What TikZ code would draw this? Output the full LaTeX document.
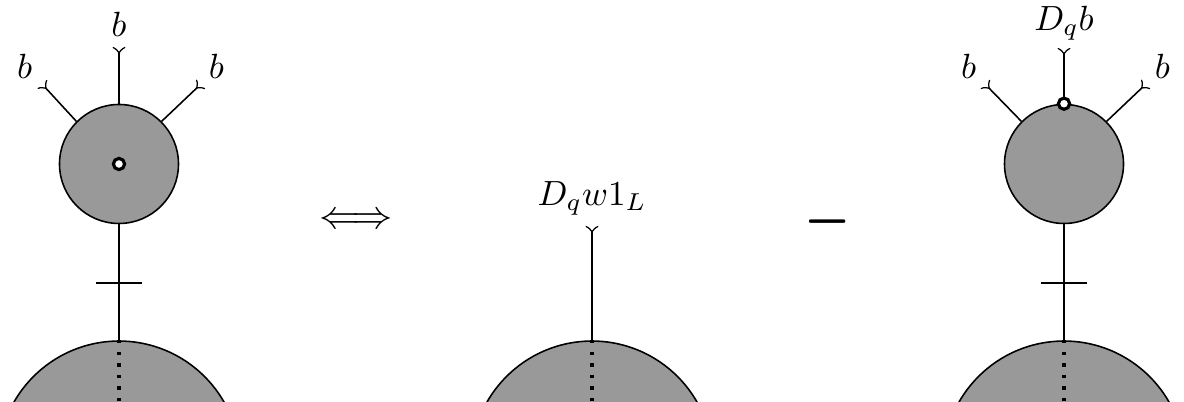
\documentclass[tikz,border=0pt]{standalone}
\usepackage{graphicx}
\usetikzlibrary{positioning}

\tikzset{
  blob/.style={draw, circle, fill=black!40, inner sep=0pt, minimum size=34pt},
  bigblob/.style={draw, circle, fill=black!40, inner sep=0pt, minimum size=69.1pt},
  hole/.style={draw, circle, fill=white, line width=0.9pt, inner sep=0pt, minimum size=3.2pt},
  leg/.style={-to reversed},
  lbl/.style={inner sep=0pt},
  cut/.style={line width=0.9pt, dash pattern=on 0.9pt off 2.4pt}
}

\begin{document}
\begin{tikzpicture}[x=0.2857pt, y=-0.2857pt, line width=0.45pt]
\useasboundingbox (0,0) rectangle (1184,402);
\clip (0,0) rectangle (1184,402);

% left term
\node[blob] (c1) at (119,164) {};
\node[hole] (d1) at (c1.center) {};
\node[bigblob] (g1) at (119,462) {};
\coordinate (t1) at (119,47);
\coordinate (l1) at (42,84);
\coordinate (r1) at (201,84);
\coordinate (k1) at (119,283);
\draw[leg] (c1.north) -- (t1);
\draw[leg] (c1.135) -- (l1);
\draw[leg] (c1.45) -- (r1);
\draw (c1.south) -- (g1.north);
\draw ([xshift=-6.7pt]k1) -- ([xshift=6.7pt]k1);
\draw[cut] (g1.north) -- (g1.center);
\node[lbl, above=2.9pt of t1] (bt1) {$b$};
\node[lbl, above left=1.2pt and 2.6pt of l1] (bl1) {$b$};
\node[lbl, above right=1.2pt and 2pt of r1] (br1) {$b$};

% equivalence
\node (iff) at (356,221) {\scalebox{1.15}{$\Longleftrightarrow$}};

% middle term
\node[bigblob] (g2) at (592,462) {};
\coordinate (t2) at (592,226);
\draw[leg] (g2.north) -- (t2);
\draw[cut] (g2.north) -- (g2.center);
\node[lbl, above=2.9pt of t2] (wt2) {$D_q w 1_L$};

% minus
\node (minus) at (828,222) {\scalebox{1.7}[2.5]{$-$}};

% right term
\node[blob] (c3) at (1064,164) {};
\node[bigblob] (g3) at (1064,462) {};
\coordinate (t3) at (1064,48);
\coordinate (l3) at (985,84);
\coordinate (r3) at (1146,84);
\coordinate (k3) at (1064,283);
\draw[leg] (c3.135) -- (l3);
\draw[leg] (c3.45) -- (r3);
\draw (c3.south) -- (g3.north);
\draw ([xshift=-6.7pt]k3) -- ([xshift=6.7pt]k3);
\draw[cut] (g3.north) -- (g3.center);
\node[hole] (d3) at (c3.north) {};
\draw[leg] (d3.north) -- (t3);
\node[lbl, above=2pt of t3] (bt3) {$D_q b$};
\node[lbl, above left=1.2pt and 2.3pt of l3] (bl3) {$b$};
\node[lbl, above right=1.2pt and 2.3pt of r3] (br3) {$b$};
\end{tikzpicture}
\end{document}
